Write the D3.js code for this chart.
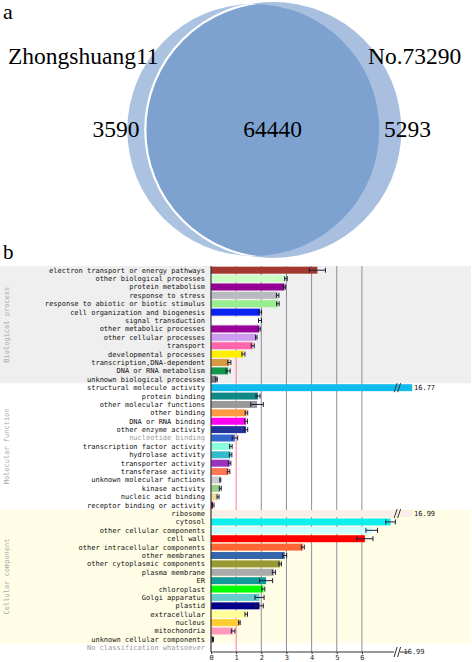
<!DOCTYPE html>
<html><head><meta charset="utf-8">
<script src="https://cdn.jsdelivr.net/npm/d3@7"></script>
<style>body{margin:0;background:#fff} svg{display:block}</style>
</head><body>
<script>
// ---------- Panel a: Venn ----------
const vennSets = ["Zhongshuang11", "No.73290"];
const vennCounts = [3590, 64440, 5293]; // only A, shared, only B

// ---------- Panel b: GO categories ----------
const sectionNames = ["Biological process", "Molecular function", "Cellular component"];

const bpCats = ["electron transport or energy pathways","other biological processes","protein metabolism",
  "response to stress","response to abiotic or biotic stimulus","cell organization and biogenesis",
  "signal transduction","other metabolic processes","other cellular processes","transport",
  "developmental processes","transcription,DNA-dependent","DNA or RNA metabolism","unknown biological processes"];
const bpValues = [4.23, 2.98, 2.92, 2.65, 2.66, 1.95, 1.95, 1.92, 1.80, 1.66, 1.29, 0.73, 0.68, 0.22];
const bpErrors = [0.32, 0.05, 0.04, 0.05, 0.05, 0.06, 0.06, 0.04, 0.03, 0.06, 0.06, 0.06, 0.08, 0.03];
const bpColors = ["#a3392e","#ccffc4","#930093","#b9b9c0","#96ee8e","#0a22f0","#ffffff","#990099",
  "#cc9cf0","#ff66aa","#ffee00","#d89a40","#10994a","#777777"];

const mfCats = ["structural molecule activity","protein binding","other molecular functions","other binding",
  "DNA or RNA binding","other enzyme activity","nucleotide binding","transcription factor activity",
  "hydrolase activity","transporter activity","transferase activity","unknown molecular functions",
  "kinase activity","nucleic acid binding","receptor binding or activity"];
const mfValues = [16.77, 1.87, 1.83, 1.41, 1.39, 1.39, 0.95, 0.79, 0.78, 0.74, 0.70, 0.37, 0.37, 0.28, 0.08];
const mfErrors = [0, 0.08, 0.25, 0.05, 0.06, 0.07, 0.11, 0.05, 0.05, 0.05, 0.05, 0.02, 0.04, 0.04, 0.04];
const mfColors = ["#10bbee","#118888","#999999","#ff9944","#ff00ee","#223399","#3366cc","#88ffdd",
  "#33bbcc","#9933bb","#ff7755","#cccccc","#99cc88","#eedd99","#aa0022"];

const ccCats = ["ribosome","cytosol","other cellular components","cell wall","other intracellular components",
  "other membranes","other cytoplasmic components","plasma membrane","ER","chloroplast","Golgi apparatus",
  "plastid","extracellular","nucleus","mitochondria","unknown cellular components"];
const ccValues = [16.99, 7.14, 6.39, 6.12, 3.65, 2.93, 2.75, 2.50, 2.19, 2.08, 1.93, 1.93, 1.40, 1.13, 0.88, 0.08];
const ccErrors = [0, 0.19, 0.23, 0.32, 0.06, 0.08, 0.05, 0.06, 0.26, 0.06, 0.18, 0.15, 0.05, 0.03, 0.07, 0.02];
const ccColors = ["#fbeee8","#11eeee","#ccffff","#ff0000","#ff6633","#3366aa","#999933","#aaaaaa",
  "#119999","#00ff00","#66cccc","#000088","#ffff99","#ffcc33","#ff99bb","#888888"];

const otherCats = ["No classification whatsoever"];
const otherValues = [0];

const tickValues = [0, 1, 2, 3, 4, 5, 6];
const axisEndLabel = "16.99";

// ---------- drawing ----------
const W = 472, H = 662;
const svg = d3.select("body").append("svg").attr("width", W).attr("height", H);
const serif = "'Liberation Serif','Times New Roman',serif";
const mono = "'DejaVu Sans Mono',monospace";

svg.append("text").attr("x", 3).attr("y", 19).attr("font-family", serif).attr("font-size", 22).text("a");

// Venn circles
const circA = {cx: 253.3, cy: 130, r: 126};
const circB = {cx: 273.3, cy: 130, r: 128};
const defs = svg.append("defs");
defs.append("clipPath").attr("id", "clipA").append("circle")
  .attr("cx", circA.cx).attr("cy", circA.cy).attr("r", circA.r);
const venn = svg.append("g");
venn.append("circle").attr("cx", circA.cx).attr("cy", circA.cy).attr("r", circA.r).attr("fill", "#abc2e1");
venn.append("circle").attr("cx", circB.cx).attr("cy", circB.cy).attr("r", circB.r).attr("fill", "#a8bfdf");
venn.append("circle").attr("clip-path", "url(#clipA)")
  .attr("cx", circB.cx).attr("cy", circB.cy).attr("r", circB.r)
  .attr("fill", "#7da2d0").attr("stroke", "#ffffff").attr("stroke-width", 2.2);

const vennFont = 23.5;
venn.append("text").attr("x", 8).attr("y", 64).attr("font-family", serif).attr("font-size", vennFont).text(vennSets[0]);
venn.append("text").attr("x", 368).attr("y", 64).attr("font-family", serif).attr("font-size", vennFont).text(vennSets[1]);
venn.append("text").attr("x", 92.5).attr("y", 137).attr("font-family", serif).attr("font-size", vennFont).text(vennCounts[0]);
venn.append("text").attr("x", 272.5).attr("y", 137).attr("text-anchor", "middle").attr("font-family", serif).attr("font-size", vennFont).text(vennCounts[1]);
venn.append("text").attr("x", 384).attr("y", 137).attr("font-family", serif).attr("font-size", vennFont).text(vennCounts[2]);

svg.append("text").attr("x", 3).attr("y", 259).attr("font-family", serif).attr("font-size", 21).text("b");

// rows
const rows = [];
[[bpCats, bpValues, bpErrors, bpColors, 0], [mfCats, mfValues, mfErrors, mfColors, 1],
 [ccCats, ccValues, ccErrors, ccColors, 2]].forEach(([cats, vals, errs, cols, s]) => {
  cats.forEach((c, i) => rows.push({cat: c, v: vals[i], e: errs[i], col: cols[i], sec: s}));
});
otherCats.forEach((c, i) => rows.push({cat: c, v: otherValues[i], e: 0, col: "#fff", sec: 3}));
rows.forEach((d, i) => d.i = i);

const yTop = 266, yBottom = 652;
const y = d3.scaleBand().domain(rows.map(d => d.i)).range([yTop, yBottom]).paddingInner(0.17).paddingOuter(0.085);
const step = y.step();
const rowTop = i => yTop + i * step;
const x = d3.scaleLinear().domain([0, 8]).range([211, 412.2]).clamp(true);
const breakVal = 7.4;

// section backgrounds
const secBg = ["#efefef", "#ffffff", "#fffde6"];
[0, 1, 2].forEach(s => {
  const idx = rows.filter(d => d.sec === s).map(d => d.i);
  const y0 = rowTop(d3.min(idx)), y1 = rowTop(d3.max(idx)) + step;
  svg.append("rect").attr("x", 0).attr("y", y0).attr("width", 471).attr("height", y1 - y0).attr("fill", secBg[s]);
  svg.append("text")
    .attr("transform", `translate(9,${(y0 + y1) / 2}) rotate(-90)`)
    .attr("text-anchor", "middle").attr("font-family", mono).attr("font-size", 7)
    .attr("fill", "#a8a8a8").text(sectionNames[s]);
});

// grid lines
svg.append("g").selectAll("line").data(tickValues.filter(t => t > 0)).join("line")
  .attr("x1", d => x(d)).attr("x2", d => x(d)).attr("y1", yTop).attr("y2", yBottom)
  .attr("stroke", d => d === 1 ? "#ff7a8c" : "#8e8e9c").attr("stroke-width", 1);

// labels
svg.append("g").selectAll("text").data(rows).join("text")
  .attr("x", 205).attr("y", d => y(d.i) + y.bandwidth() / 2)
  .attr("dy", "0.35em").attr("text-anchor", "end")
  .attr("font-family", mono).attr("font-size", 7)
  .attr("fill", d => (d.cat === "nucleotide binding" || d.sec === 3) ? "#9a9a9a" : "#111")
  .text(d => d.cat);

// bars
const barRows = rows.filter(d => d.v > 0);
svg.append("g").selectAll("rect").data(barRows).join("rect")
  .attr("x", x(0)).attr("y", d => y(d.i))
  .attr("width", d => x(d.v) - x(0)).attr("height", y.bandwidth())
  .attr("fill", d => d.col);

// broken bars
const broken = barRows.filter(d => d.v > breakVal);
const bk = svg.append("g").selectAll("g").data(broken).join("g");
bk.append("path")
  .attr("d", d => {
    const cx = x(breakVal), yy = y(d.i), h = y.bandwidth();
    return `M${cx - 3},${yy + h + 1}L${cx},${yy - 1}M${cx + 0.5},${yy + h + 1}L${cx + 3.5},${yy - 1}`;
  })
  .attr("stroke", "#333").attr("stroke-width", 1).attr("fill", "none");
bk.append("text").attr("x", 414).attr("y", d => y(d.i) + y.bandwidth() / 2).attr("dy", "0.35em")
  .attr("font-family", mono).attr("font-size", 7).attr("fill", "#111").text(d => d3.format(".2f")(d.v));

// error bars
const errRows = barRows.filter(d => d.v <= breakVal && d.e > 0);
const eb = svg.append("g").attr("stroke", "#1d1d3a").attr("stroke-width", 1);
eb.selectAll("line.h").data(errRows).join("line").attr("class", "h")
  .attr("x1", d => x(d.v - d.e)).attr("x2", d => x(d.v + d.e))
  .attr("y1", d => y(d.i) + y.bandwidth() / 2).attr("y2", d => y(d.i) + y.bandwidth() / 2);
eb.selectAll("line.l").data(errRows).join("line").attr("class", "l")
  .attr("x1", d => x(d.v - d.e)).attr("x2", d => x(d.v - d.e))
  .attr("y1", d => y(d.i) + 1).attr("y2", d => y(d.i) + y.bandwidth() - 1);
eb.selectAll("line.r").data(errRows).join("line").attr("class", "r")
  .attr("x1", d => x(d.v + d.e)).attr("x2", d => x(d.v + d.e))
  .attr("y1", d => y(d.i) + 1).attr("y2", d => y(d.i) + y.bandwidth() - 1);

// left axis line
svg.append("line").attr("x1", x(0)).attr("x2", x(0)).attr("y1", yTop).attr("y2", yBottom)
  .attr("stroke", "#333").attr("stroke-width", 1.2);

// bottom axis
const ax = svg.append("g").attr("transform", `translate(0,${yBottom})`)
  .call(d3.axisBottom(x).tickValues(tickValues).tickSize(2).tickPadding(1).tickFormat(d3.format("d")));
ax.select(".domain").attr("stroke", "#333").attr("d", `M${x(0)},0H${x(7.88)}`);
ax.selectAll(".tick line").attr("stroke", "#333");
ax.selectAll(".tick text").attr("font-family", mono).attr("font-size", 7).attr("fill", "#222");
const bxs = x(breakVal);
ax.append("rect").attr("x", bxs - 3).attr("y", -1).attr("width", 6).attr("height", 2).attr("fill", "#fff");
ax.append("path").attr("d", `M${bxs - 3},5L${bxs},-5M${bxs + 0.5},5L${bxs + 3.5},-5`)
  .attr("stroke", "#333").attr("fill", "none");
ax.append("text").attr("x", 414).attr("y", 0).attr("dy", "0.35em")
  .attr("font-family", mono).attr("font-size", 7).attr("fill", "#222").text(axisEndLabel);
</script>
</body></html>
